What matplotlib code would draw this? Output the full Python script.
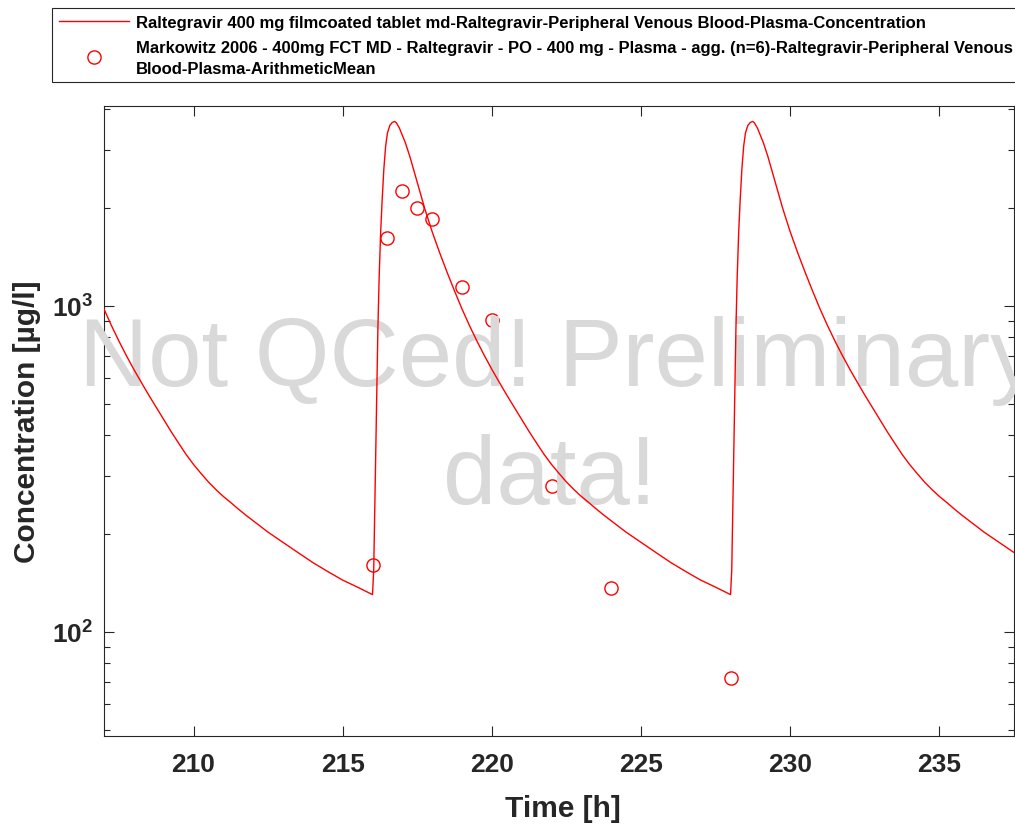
import numpy as np
import matplotlib
matplotlib.use("Agg")
import matplotlib.pyplot as plt
from matplotlib.lines import Line2D
from matplotlib.patches import Rectangle
from matplotlib.ticker import LogLocator, NullFormatter, FixedLocator

# 模拟曲线 (时间 h, 浓度 µg/l)
sim_time = [207.0, 207.25, 207.5, 207.75, 208.0, 208.25, 208.5, 208.75, 209.0, 209.25,
            209.5, 209.75, 210.0, 210.25, 210.5, 210.75, 211.0, 211.25, 211.5, 211.75,
            212.0, 212.5, 213.0, 213.5, 214.0, 214.5, 215.0, 215.5, 216.0,
            216.04, 216.08, 216.13, 216.18, 216.22, 216.27, 216.32, 216.38, 216.44, 216.5,
            216.58, 216.66, 216.74, 216.8, 216.9, 217.0, 217.1, 217.25, 217.5, 217.75,
            218.0, 218.25, 218.5, 218.75, 219.0, 219.25, 219.5, 219.75, 220.0, 220.25,
            220.5, 220.75, 221.0, 221.25, 221.5, 221.75, 222.0, 222.25, 222.5, 222.75,
            223.0, 223.25, 223.5, 223.75, 224.0, 224.5, 225.0, 225.5, 226.0, 226.5,
            227.0, 227.5, 228.0,
            228.04, 228.08, 228.13, 228.18, 228.22, 228.27, 228.32, 228.38, 228.44, 228.5,
            228.58, 228.66, 228.74, 228.8, 228.9, 229.0, 229.1, 229.25, 229.5, 229.75,
            230.0, 230.25, 230.5, 230.75, 231.0, 231.25, 231.5, 231.75, 232.0, 232.25,
            232.5, 232.75, 233.0, 233.25, 233.5, 233.75, 234.0, 234.25, 234.5, 234.75,
            235.0, 235.25, 235.5, 235.75, 236.0, 236.5, 237.0, 237.5]
sim_conc = [977, 869, 779, 703, 638, 582, 532, 488, 447, 411,
            379, 350, 326, 306, 288, 273, 260, 249, 238, 228,
            219, 202, 188, 175, 163, 153, 144, 137, 130,
            155, 251, 479, 851, 1202, 1660, 2089, 2630, 3090, 3388,
            3573, 3648, 3675, 3639, 3508, 3327, 3162, 2871, 2388, 1986,
            1685, 1454, 1266, 1109, 977, 869, 779, 703, 638, 582,
            532, 488, 447, 411, 379, 350, 326, 306, 288, 273,
            260, 249, 238, 228, 219, 202, 188, 175, 163, 153,
            144, 137, 130,
            155, 251, 479, 851, 1202, 1660, 2089, 2630, 3090, 3388,
            3573, 3648, 3675, 3639, 3508, 3327, 3162, 2871, 2388, 1986,
            1685, 1454, 1266, 1109, 977, 869, 779, 703, 638, 582,
            532, 488, 447, 411, 379, 350, 326, 306, 288, 273,
            260, 249, 238, 228, 219, 202, 188, 175]

# 观测数据 (Markowitz 2006)
obs_time = [216.0, 216.5, 217.0, 217.5, 218.0, 219.0, 220.0, 222.0, 224.0, 228.0]
obs_conc = [160, 1618, 2254, 1995, 1849, 1143, 906, 280, 136, 72]

sim_label = ["Raltegravir 400 mg filmcoated tablet md-Raltegravir-Peripheral Venous Blood-Plasma-Concentration"]
obs_label = ["Markowitz 2006 - 400mg FCT MD - Raltegravir - PO - 400 mg - Plasma - agg. (n=6)-Raltegravir-Peripheral Venous",
             "Blood-Plasma-ArithmeticMean"]

x_ticks = [210, 215, 220, 225, 230, 235]
y_ticks = [100, 1000]
y_tick_labels = [r"$\mathbf{10^{2}}$", r"$\mathbf{10^{3}}$"]

plt.rcParams['font.family'] = ['Liberation Sans', 'DejaVu Sans']
plt.rcParams['font.weight'] = 'bold'
plt.rcParams['mathtext.fontset'] = 'custom'
plt.rcParams['mathtext.rm'] = 'Liberation Sans'
plt.rcParams['mathtext.bf'] = 'Liberation Sans:bold'

axis_color = '#262626'
W, H = 1015, 828


def fx(px):
    # 像素 -> 图坐标
    return px / W


def fy(py):
    return 1 - py / H


fig = plt.figure(figsize=(W / 100, H / 100), dpi=100)
ax = fig.add_axes([fx(104), fy(736.7), 910 / W, 630 / H])

# 观测点在水印之下, 模拟曲线在水印之上
ax.plot(obs_time, obs_conc, linestyle='none', marker='o', markersize=9.5,
        markerfacecolor='none', markeredgecolor='red', markeredgewidth=1.0, zorder=2)
ax.plot(sim_time, sim_conc, color='red', linewidth=1.0, zorder=4)

ax.text(0.5, 0.5567, "Not QCed! Preliminary", transform=ax.transAxes, ha='center',
        va='baseline', fontsize=69, fontweight='normal', color='#d9d9d9', zorder=3)
ax.text(0.49, 0.3694, "data!", transform=ax.transAxes, ha='center',
        va='baseline', fontsize=69, fontweight='normal', color='#d9d9d9', zorder=3)

ax.set_yscale('log')
ax.set_xlim(207, 237.5)
ax.set_ylim(48, 4107)

ax.xaxis.set_major_locator(FixedLocator(x_ticks))
ax.set_xticklabels([str(t) for t in x_ticks])
ax.yaxis.set_major_locator(FixedLocator(y_ticks))
ax.set_yticklabels(y_tick_labels)
ax.yaxis.set_minor_locator(LogLocator(base=10, subs=np.arange(2, 10)))
ax.yaxis.set_minor_formatter(NullFormatter())

ax.tick_params(which='both', direction='in', top=True, right=True, colors=axis_color,
               width=0.8)
ax.tick_params(which='major', length=7)
ax.tick_params(which='minor', length=4)
ax.tick_params(axis='x', labelsize=19, pad=12)
ax.tick_params(axis='y', labelsize=19, pad=8)
for spine in ax.spines.values():
    spine.set_color(axis_color)
    spine.set_linewidth(0.8)

fig.text(fx(562.5), fy(816.7), "Time [h]", ha='center', va='baseline',
         fontsize=21.5, color=axis_color)
fig.text(fx(26.7), fy(421.7), "Concentration [µg/l]", ha='center', va='center',
         rotation=90, fontsize=21.5, color=axis_color)

# 图例 (手工绘制, 右侧超出画布)
fig.patches.append(Rectangle((fx(51.7), fy(83.3)), fx(1040) - fx(51.7), fy(9) - fy(83.3),
                             transform=fig.transFigure, facecolor='white',
                             edgecolor=axis_color, linewidth=0.8))
fig.lines.append(Line2D([fx(59), fx(129)], [fy(22.3), fy(22.3)], transform=fig.transFigure,
                        color='red', linewidth=1.0))
fig.lines.append(Line2D([fx(94)], [fy(57.5)], transform=fig.transFigure, linestyle='none',
                        marker='o', markersize=9.5, markerfacecolor='none',
                        markeredgecolor='red', markeredgewidth=1.0))
fig.text(fx(136), fy(28.3), sim_label[0], ha='left', va='baseline', fontsize=12,
         color='black')
for i, line in enumerate(obs_label):
    fig.text(fx(136), fy(53.3 + 20.7 * i), line, ha='left', va='baseline', fontsize=12,
             color='black')

fig.savefig("out.png", dpi=100)
